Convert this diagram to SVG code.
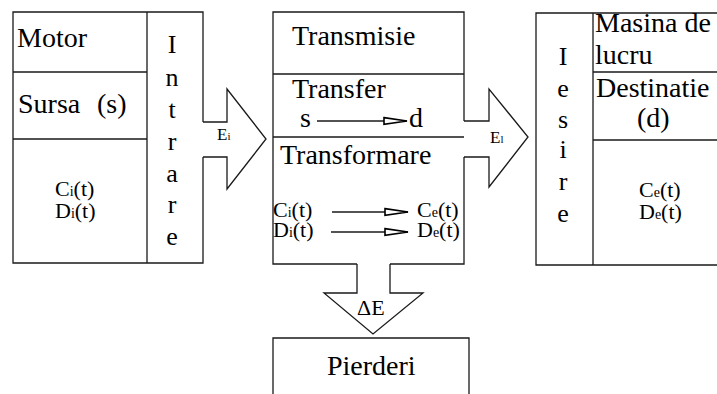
<svg xmlns="http://www.w3.org/2000/svg" width="717" height="394" viewBox="0 0 717 394">
<defs>
<marker id="ah" markerUnits="userSpaceOnUse" markerWidth="30" markerHeight="12" refX="24" refY="6" orient="auto" overflow="visible">
<path d="M1,2.6 L24,6 L1,9.4 Z" fill="#fff" stroke="#000" stroke-width="1.6" stroke-linejoin="miter"/>
</marker>
</defs>
<rect width="717" height="394" fill="#fff"/>

<g id="sursa">
<g fill="none" stroke="#1a1a1a" stroke-width="1.3">
<path d="M203,122 V12 H13 V263 H203 V157"/>
<path d="M147,12 V263 M13,72 H147 M13,139 H147"/>
</g>
<text style="font-family:Liberation Serif,serif !important" font-size="28" x="17" y="47">Motor</text>
<text style="font-family:Liberation Serif,serif !important" font-size="28" x="18" y="113">Sursa</text>
<text style="font-family:Liberation Serif,serif !important" font-size="28" x="97" y="113">(s)</text>
<text style="font-family:Liberation Serif,serif !important" font-size="22" x="55" y="196">C<tspan font-size="14">i</tspan>(t)</text>
<text style="font-family:Liberation Serif,serif !important" font-size="22" x="55" y="218">D<tspan font-size="14">i</tspan>(t)</text>
<text style="font-family:Liberation Serif,serif !important" font-size="26" text-anchor="middle" x="172" y="53">I</text>
<text style="font-family:Liberation Serif,serif !important" font-size="26" text-anchor="middle" x="172" y="86">n</text>
<text style="font-family:Liberation Serif,serif !important" font-size="26" text-anchor="middle" x="172" y="118">t</text>
<text style="font-family:Liberation Serif,serif !important" font-size="26" text-anchor="middle" x="172" y="150">r</text>
<text style="font-family:Liberation Serif,serif !important" font-size="26" text-anchor="middle" x="172" y="182">a</text>
<text style="font-family:Liberation Serif,serif !important" font-size="26" text-anchor="middle" x="172" y="213">r</text>
<text style="font-family:Liberation Serif,serif !important" font-size="26" text-anchor="middle" x="172" y="245">e</text>
</g>

<g id="transmisie">
<g fill="none" stroke="#1a1a1a" stroke-width="1.3">
<path d="M464,121 V12 H273 V264 H357 M390,264 H464 V157"/>
<path d="M273,74 H464 M273,137 H464"/>
</g>
<text style="font-family:Liberation Serif,serif !important" font-size="28" x="292" y="45">Transmisie</text>
<text style="font-family:Liberation Serif,serif !important" font-size="28" x="292" y="98">Transfer</text>
<text style="font-family:Liberation Serif,serif !important" font-size="28" x="300" y="127">s</text>
<text style="font-family:Liberation Serif,serif !important" font-size="28" x="409" y="127">d</text>
<text style="font-family:Liberation Serif,serif !important" font-size="28" x="280" y="164">Transformare</text>
<text style="font-family:Liberation Serif,serif !important" font-size="22" x="273" y="217">C<tspan font-size="14">i</tspan>(t)</text>
<text style="font-family:Liberation Serif,serif !important" font-size="22" x="273" y="237">D<tspan font-size="14">i</tspan>(t)</text>
<text style="font-family:Liberation Serif,serif !important" font-size="22" x="417" y="217">C<tspan font-size="14">e</tspan>(t)</text>
<text style="font-family:Liberation Serif,serif !important" font-size="22" x="417" y="237">D<tspan font-size="14">e</tspan>(t)</text>
</g>

<g id="iesire">
<g fill="none" stroke="#1a1a1a" stroke-width="1.3">
<path d="M717,13 H536 V265 H717"/>
<path d="M593,13 V265 M593,72 H717 M593,140 H717"/>
</g>
<text style="font-family:Liberation Serif,serif !important" font-size="28" x="595" y="32">Masina de</text>
<text style="font-family:Liberation Serif,serif !important" font-size="28" x="595" y="64">lucru</text>
<text style="font-family:Liberation Serif,serif !important" font-size="28" x="596" y="97">Destinatie</text>
<text style="font-family:Liberation Serif,serif !important" font-size="28" x="637" y="127">(d)</text>
<text style="font-family:Liberation Serif,serif !important" font-size="22" x="639" y="197">C<tspan font-size="14">e</tspan>(t)</text>
<text style="font-family:Liberation Serif,serif !important" font-size="22" x="639" y="219">D<tspan font-size="14">e</tspan>(t)</text>
<text style="font-family:Liberation Serif,serif !important" font-size="26" text-anchor="middle" x="563" y="65">I</text>
<text style="font-family:Liberation Serif,serif !important" font-size="26" text-anchor="middle" x="563" y="97">e</text>
<text style="font-family:Liberation Serif,serif !important" font-size="26" text-anchor="middle" x="563" y="128">s</text>
<text style="font-family:Liberation Serif,serif !important" font-size="26" text-anchor="middle" x="563" y="158">i</text>
<text style="font-family:Liberation Serif,serif !important" font-size="26" text-anchor="middle" x="563" y="190">r</text>
<text style="font-family:Liberation Serif,serif !important" font-size="26" text-anchor="middle" x="563" y="222">e</text>
</g>

<g id="pierderi">
<path d="M273,395 V338 H469 V395" fill="none" stroke="#1a1a1a" stroke-width="1.3"/>
<text style="font-family:Liberation Serif,serif !important" font-size="28" x="327" y="375">Pierderi</text>
</g>

<g id="connectors">
<g fill="none" stroke="#1a1a1a" stroke-width="1.3">
<path d="M203,122 H227 V89 L266,139 L227,189 V157 H203"/>
<path d="M464,121 H489 V89 L528,137 L489,187 V157 H464"/>
<path d="M357,264 V293 H324 L373,334 L423,293 H390 V264"/>
<line x1="317" y1="121" x2="407" y2="121" marker-end="url(#ah)"/>
<line x1="332" y1="212" x2="408" y2="212" marker-end="url(#ah)"/>
<line x1="331" y1="232" x2="408" y2="232" marker-end="url(#ah)"/>
</g>
<text style="font-family:Liberation Serif,serif !important" font-size="17" x="217" y="140">E<tspan font-size="11">i</tspan></text>
<text style="font-family:Liberation Serif,serif !important" font-size="17" x="490" y="143">E<tspan font-size="11">l</tspan></text>
<text style="font-family:Liberation Serif,serif !important" font-size="22" x="357" y="315">ΔE</text>
</g>
</svg>
